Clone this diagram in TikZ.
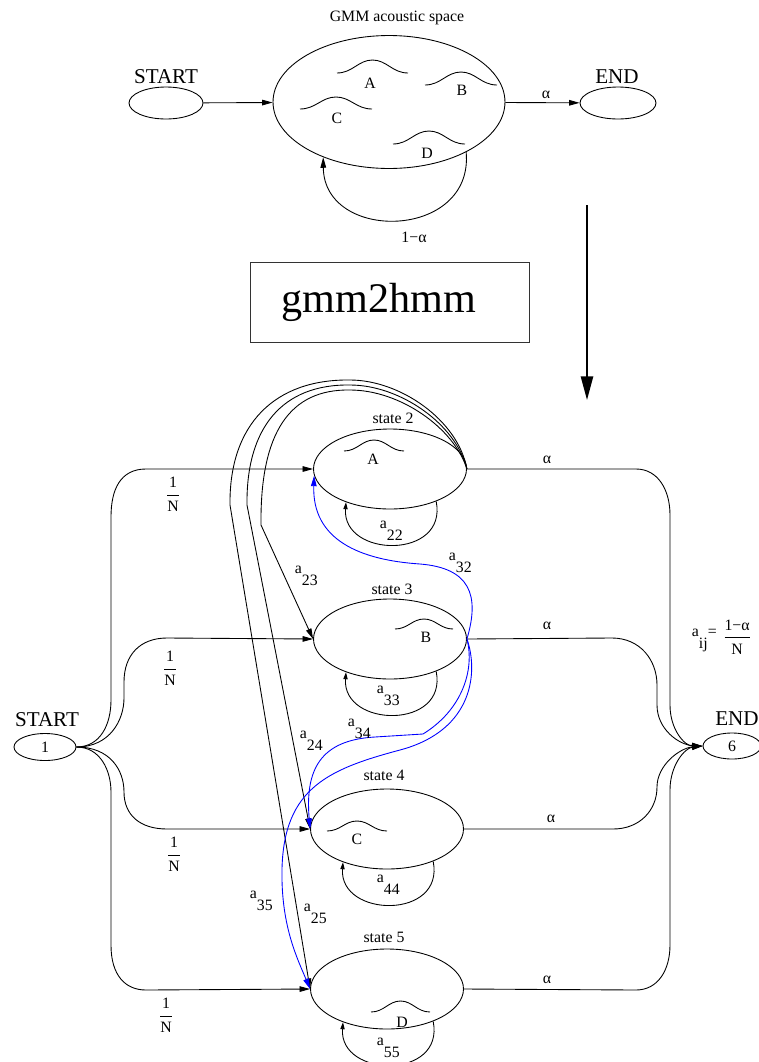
\documentclass[tikz,border=0pt]{standalone}
\usepackage{fontspec}
\setmainfont{Liberation Serif}
\usetikzlibrary{shapes.geometric, arrows.meta}
\tikzstyle{hmmstate} = [ellipse, draw=black, minimum width=3.06cm, minimum height=1.6cm, inner sep=0pt]
\tikzstyle{endpoint} = [ellipse, draw=black, inner sep=0pt, font=\fontsize{9}{10}\selectfont]
\tikzstyle{lbl} = [inner sep=0pt, font=\fontsize{9}{10}\selectfont]
\tikzstyle{bigtext} = [inner sep=0pt, font=\fontsize{12}{14}\selectfont]
\tikzstyle{arrow} = [-{Triangle[length=6pt,width=3.2pt]}]
\tikzstyle{selfarrow} = [-{Triangle[length=4pt,width=2.4pt]}]
\tikzstyle{bluearrow} = [arrow, draw=blue]

% frazione a due righe
\newcommand{\ratio}[2]{{\renewcommand{\arraystretch}{1.3}\begin{tabular}{@{}c@{}}#1\\\hline #2\end{tabular}}}
% pedice abbassato
\newcommand{\lowidx}[1]{\raisebox{-0.75em}{#1}}
% gaussiana: estremo sinistro, larghezza, altezza
\newcommand{\bump}[4]{\draw (#1,#2) .. controls ({#1+0.22*#3},#2) and ({#1+0.3*#3},{#2-#4}) .. ({#1+0.5*#3},{#2-#4})
  .. controls ({#1+0.7*#3},{#2-#4}) and ({#1+0.78*#3},#2) .. ({#1+#3},#2);}

\begin{document}
\begin{tikzpicture}[x=0.02cm, y=-0.02cm, line width=0.5pt]
\useasboundingbox (0,0) rectangle (759,1062);

% Spazio acustico GMM
\node (gmmtitle) [lbl] at (397,18) {GMM acoustic space};
\node (gmm) [ellipse, draw, minimum width=4.64cm, minimum height=2.66cm, inner sep=0pt] at (389,102) {};
\node (gstart) [endpoint, minimum width=1.48cm, minimum height=0.64cm] at (166,103) {};
\node (gend) [endpoint, minimum width=1.52cm, minimum height=0.64cm] at (618,103) {};
\node (gstartlbl) [bigtext] at (166,77) {START};
\node (gendlbl) [bigtext] at (617,77) {END};
\node (ga) [lbl] at (370,83) {A};
\node (gb) [lbl] at (462,90) {B};
\node (gc) [lbl] at (337,118) {C};
\node (gd) [lbl] at (427,153) {D};
\bump{337}{73}{71}{13}
\bump{425}{85}{72}{13}
\bump{300}{109}{72}{12}
\bump{393}{144}{72}{13}

\draw [arrow] (gstart) -- (gmm);
\draw [arrow] (gmm) -- (gend);
\node (galpha) [lbl] at (546,95) {α};
\draw [arrow] (gmm.-33) .. controls (474,240) and (324,243) .. (gmm.-140);
\node (gloop) [lbl] at (414,237) {1−α};

% Conversione
\node (conv) [draw=black!80, minimum width=5.58cm, minimum height=1.6cm, font=\fontsize{24}{28}\selectfont] at (390,302) {gmm2hmm\hspace*{0.44cm}};
\coordinate (convtop) at (587,205);
\coordinate (convtip) at (587,400);
\draw [line width=1pt, -{Triangle[length=13.5pt,width=7pt]}] (convtop) -- (convtip);

% Stati HMM
\node (s2) [hmmstate] at (390,469) {};
\node (s3) [hmmstate] at (390,639) {};
\node (s4) [hmmstate] at (387,829) {};
\node (s5) [hmmstate] at (387,989) {};
\node (t2) [lbl] at (393,418) {state 2};
\node (t3) [lbl] at (392,589) {state 3};
\node (t4) [lbl] at (384,775) {state 4};
\node (t5) [lbl] at (384,937) {state 5};
\node (la) [lbl] at (373,459) {A};
\node (lb) [lbl] at (426,637) {B};
\node (lc) [lbl] at (357,839) {C};
\node (ld) [lbl] at (402,1022) {D};
\bump{344}{451}{60}{11}
\bump{395}{629}{58}{10}
\bump{327}{831}{60}{10}
\bump{371}{1012}{59}{11}

\node (start) [endpoint, minimum width=1.24cm, minimum height=0.54cm] at (45,747) {1};
\node (finish) [endpoint, minimum width=1.16cm, minimum height=0.52cm] at (732,746) {6};
\node (startlbl) [bigtext] at (47,720) {START};
\node (finishlbl) [bigtext] at (737,719) {END};

% Ingressi 1/N
\draw [arrow] (start.east) .. controls (100,747) and (111,725) .. (111,700) -- (111,517)
  .. controls (111,490) and (120,469) .. (146,469) -- (s2.west);
\draw [arrow] (start.east) .. controls (110,747) and (124,720) .. (124,698) -- (124,682)
  .. controls (124,655) and (140,638) .. (167,638) -- (s3.west);
\draw [arrow] (start.east) .. controls (110,747) and (124,770) .. (124,792)
  .. controls (124,815) and (140,829) .. (167,829) -- (s4.west);
\draw [arrow] (start.east) .. controls (100,747) and (111,770) .. (111,792) -- (111,945)
  .. controls (111,975) and (125,990) .. (146,990) -- (s5.west);
\node (n2) [lbl] at (173,495) {\ratio{1}{N}};
\node (n3) [lbl] at (170,669) {\ratio{1}{N}};
\node (n4) [lbl] at (174,855) {\ratio{1}{N}};
\node (n5) [lbl] at (166,1016) {\ratio{1}{N}};

% Uscite alpha
\draw [arrow] (s2.east) -- (636,469) .. controls (658,469) and (670,490) .. (670,515) -- (670,705)
  .. controls (670,730) and (685,746) .. (finish.west);
\draw [arrow] (s3.east) -- (612,638) .. controls (640,638) and (657,660) .. (657,685) -- (657,705)
  .. controls (657,730) and (680,745) .. (finish.west);
\draw [arrow] (s4.east) -- (613,829) .. controls (640,829) and (657,810) .. (657,787)
  .. controls (657,765) and (680,748) .. (finish.west);
\draw [arrow] (s5.east) -- (636,990) .. controls (658,990) and (670,970) .. (670,945) -- (670,790)
  .. controls (670,765) and (685,748) .. (finish.west);
\node (al2) [lbl] at (547,460) {α};
\node (al3) [lbl] at (547,626) {α};
\node (al4) [lbl] at (551,819) {α};
\node (al5) [lbl] at (547,980) {α};
\node (aij) [lbl, anchor=base west] at (691.5,636.5) {a\lowidx{ij}=\hspace{0.5em}\raisebox{-3pt}{\ratio{1−α}{N}}};

% Autoanelli
\draw [selfarrow] (s2.-35) .. controls (448,560) and (342,558) .. (s2.-143);
\draw [selfarrow] (s3.-35) .. controls (448,730) and (342,728) .. (s3.-143);
\draw [selfarrow] (s4.-35) .. controls (445,920) and (339,918) .. (s4.-143);
\draw [selfarrow] (s5.-35) .. controls (445,1080) and (339,1078) .. (s5.-143);
\node (a22) [lbl, anchor=base west] at (379.5,528.5) {a\lowidx{22}};
\node (a33) [lbl, anchor=base west] at (376.5,693.5) {a\lowidx{33}};
\node (a44) [lbl, anchor=base west] at (376.5,882.5) {a\lowidx{44}};
\node (a55) [lbl, anchor=base west] at (376.5,1045.5) {a\lowidx{55}};

% Transizioni dallo stato 2
\draw [arrow] (s2.east) .. controls (454,428) and (400,390) .. (350,390)
  .. controls (290,389) and (260,432) .. (261,525) -- (s3.west);
\draw [arrow] (s2.east) .. controls (456,424) and (400,385) .. (350,385)
  .. controls (282,384) and (246,428) .. (247,505) -- (s4.west);
\draw [arrow] (s2.east) .. controls (458,420) and (400,380) .. (350,380)
  .. controls (275,379) and (229,424) .. (230,505) -- (s5.west);
\node (a23) [lbl, anchor=base west] at (294.5,573.5) {a\lowidx{23}};
\node (a24) [lbl, anchor=base west] at (299.5,738.5) {a\lowidx{24}};
\node (a25) [lbl, anchor=base west] at (303.5,911.5) {a\lowidx{25}};

% Transizioni dallo stato 3 (blu)
\draw [bluearrow] (s3.east) .. controls (480,595) and (470,568) .. (420,564)
  .. controls (360,560) and (312,540) .. (s2.-175);
\draw [bluearrow] (s3.east) .. controls (475,670) and (462,710) .. (423,734) -- (375,737)
  .. controls (320,740) and (305,770) .. (s4.west);
\draw [bluearrow] (s3.east) .. controls (478,670) and (475,730) .. (400,750)
  .. controls (325,770) and (280,790) .. (282,880) .. controls (283,930) and (298,960) .. (s5.west);
\node (a32) [lbl, anchor=base west] at (448.5,560.5) {a\lowidx{32}};
\node (a34) [lbl, anchor=base west] at (347.5,726.5) {a\lowidx{34}};
\node (a35) [lbl, anchor=base west] at (249.5,898.5) {a\lowidx{35}};

\end{tikzpicture}
\end{document}
